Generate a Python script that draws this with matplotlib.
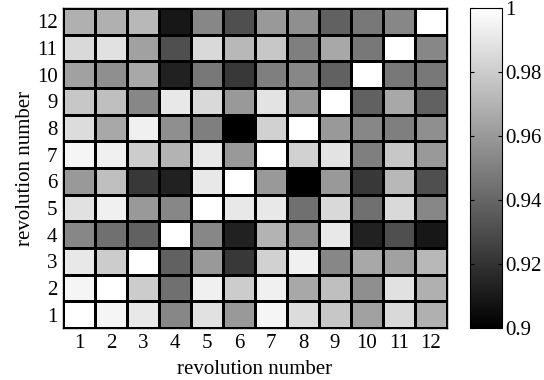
import numpy as np
import matplotlib
matplotlib.use('Agg')
import matplotlib.pyplot as plt

plt.rcParams['font.family'] = ['Liberation Serif', 'DejaVu Serif']

revs = list(range(1, 13))

# correlation between revolutions, rows = y (1..12), cols = x (1..12)
corr = [
    [1.000, 0.996, 0.991, 0.953, 0.988, 0.960, 0.996, 0.986, 0.978, 0.963, 0.985, 0.969],
    [0.996, 1.000, 0.980, 0.944, 0.994, 0.980, 0.994, 0.966, 0.975, 0.956, 0.988, 0.969],
    [0.991, 0.980, 1.000, 0.938, 0.960, 0.922, 0.982, 0.994, 0.953, 0.966, 0.963, 0.972],
    [0.953, 0.944, 0.938, 1.000, 0.953, 0.913, 0.970, 0.956, 0.991, 0.913, 0.931, 0.909],
    [0.988, 0.994, 0.960, 0.953, 1.000, 0.991, 0.991, 0.944, 0.985, 0.944, 0.985, 0.953],
    [0.960, 0.975, 0.922, 0.913, 0.991, 1.000, 0.960, 0.900, 0.960, 0.922, 0.972, 0.931],
    [0.996, 0.994, 0.980, 0.970, 0.991, 0.960, 1.000, 0.982, 0.989, 0.950, 0.978, 0.960],
    [0.986, 0.966, 0.994, 0.956, 0.950, 0.900, 0.982, 1.000, 0.960, 0.953, 0.950, 0.956],
    [0.978, 0.975, 0.953, 0.991, 0.985, 0.960, 0.989, 0.960, 1.000, 0.938, 0.966, 0.938],
    [0.963, 0.956, 0.966, 0.913, 0.947, 0.922, 0.950, 0.953, 0.938, 1.000, 0.947, 0.947],
    [0.985, 0.988, 0.963, 0.931, 0.985, 0.972, 0.978, 0.950, 0.966, 0.947, 1.000, 0.953],
    [0.969, 0.969, 0.972, 0.909, 0.953, 0.931, 0.960, 0.956, 0.938, 0.947, 0.953, 1.000],
]
cbar_ticks = [0.9, 0.92, 0.94, 0.96, 0.98, 1]

fig = plt.figure(figsize=(5.44, 3.80), dpi=100)
ax = fig.add_axes([63/544, 52/380, 384/544, 320/380])
cax = fig.add_axes([470/544, 52/380, 32/544, 320/380])

edges = np.arange(0.5, 13.5, 1)
mesh = ax.pcolormesh(edges, edges, np.array(corr), cmap='gray', vmin=0.9, vmax=1,
                     edgecolors='k', linewidth=1)
ax.set_xticks(revs)
ax.set_yticks(revs)
ax.tick_params(length=0, labelsize=15, pad=4)
ax.set_xlabel('revolution number', fontsize=15, labelpad=5)
ax.set_ylabel('revolution number', fontsize=15, labelpad=1)
for s in ax.spines.values():
    s.set_linewidth(1)

cb = fig.colorbar(mesh, cax=cax, ticks=cbar_ticks)
cb.ax.set_yticklabels(['0.9', '0.92', '0.94', '0.96', '0.98', '1'])
cb.ax.tick_params(direction='in', length=3, labelsize=15, left=True, right=True, pad=2)
cb.outline.set_linewidth(0.8)

fig.savefig('out.png', dpi=100)
